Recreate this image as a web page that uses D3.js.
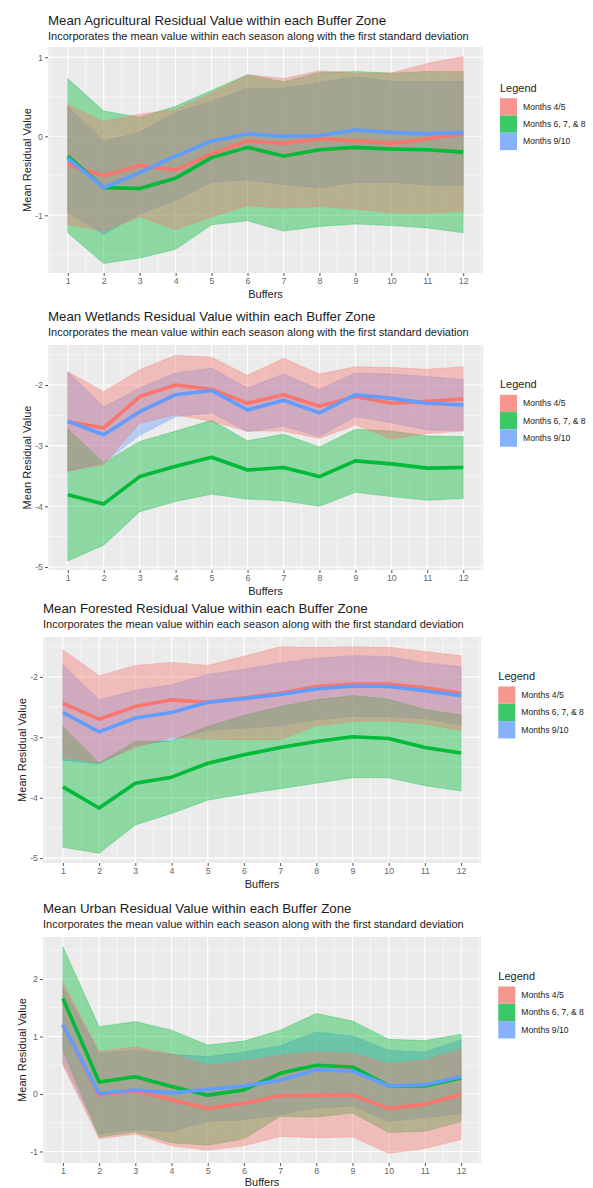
<!DOCTYPE html>
<html>
<head>
<meta charset="utf-8">
<script src="https://cdn.jsdelivr.net/npm/d3@7"></script>
<style>
  body { margin: 0; background: #fff; }
  svg text { font-family: "Liberation Sans", Arial, Helvetica, sans-serif; }
</style>
</head>
<body>
<svg id="chart" width="593" height="1188"></svg>
<script>
// categories
var buffers = [1, 2, 3, 4, 5, 6, 7, 8, 9, 10, 11, 12];
var seasonNames = ["Months 4/5", "Months 6, 7, & 8", "Months 9/10"];
var seasonColors = ["#F8766D", "#00BA38", "#619CFF"];

// Agricultural
var agriMean45  = [-0.36, -0.50, -0.37, -0.43, -0.22, -0.06, -0.09, -0.03, -0.06, -0.09, -0.03, 0.03];
var agriHigh45  = [0.40, 0.19, 0.28, 0.34, 0.55, 0.78, 0.73, 0.83, 0.80, 0.80, 0.92, 1.01];
var agriLow45   = [-1.12, -1.20, -1.02, -1.18, -1.02, -0.88, -0.91, -0.89, -0.92, -0.97, -0.97, -0.95];
var agriMean678 = [-0.25, -0.65, -0.66, -0.53, -0.27, -0.14, -0.25, -0.17, -0.14, -0.16, -0.17, -0.20];
var agriHigh678 = [0.73, 0.32, 0.24, 0.38, 0.58, 0.78, 0.69, 0.81, 0.82, 0.80, 0.82, 0.82];
var agriLow678  = [-1.22, -1.61, -1.54, -1.43, -1.12, -1.07, -1.20, -1.14, -1.11, -1.13, -1.16, -1.22];
var agriMean910 = [-0.28, -0.65, -0.46, -0.25, -0.06, 0.03, 0.00, 0.01, 0.08, 0.05, 0.03, 0.05];
var agriHigh910 = [0.38, -0.06, 0.05, 0.30, 0.44, 0.61, 0.61, 0.68, 0.75, 0.70, 0.69, 0.70];
var agriLow910  = [-0.96, -1.24, -0.98, -0.81, -0.58, -0.55, -0.61, -0.65, -0.58, -0.58, -0.62, -0.62];
var agriTicks = [-1, 0, 1];
var agriRange = [-1.73, 1.13];

// Wetlands
var wetMean45  = [-2.60, -2.71, -2.19, -2.00, -2.07, -2.30, -2.16, -2.35, -2.19, -2.30, -2.27, -2.23];
var wetHigh45  = [-1.78, -2.11, -1.75, -1.51, -1.54, -1.84, -1.56, -1.82, -1.70, -1.71, -1.74, -1.70];
var wetLow45   = [-3.42, -3.31, -2.63, -2.49, -2.60, -2.76, -2.76, -2.88, -2.66, -2.89, -2.80, -2.76];
var wetMean678 = [-3.81, -3.96, -3.51, -3.34, -3.19, -3.40, -3.36, -3.51, -3.25, -3.30, -3.37, -3.36];
var wetHigh678 = [-2.72, -3.28, -2.93, -2.76, -2.58, -2.92, -2.81, -3.02, -2.73, -2.76, -2.84, -2.85];
var wetLow678  = [-4.90, -4.64, -4.09, -3.92, -3.80, -3.88, -3.91, -4.00, -3.77, -3.84, -3.90, -3.87];
var wetMean910 = [-2.60, -2.82, -2.44, -2.16, -2.09, -2.41, -2.25, -2.46, -2.16, -2.22, -2.30, -2.33];
var wetHigh910 = [-1.78, -2.36, -2.05, -1.80, -1.72, -2.05, -1.82, -2.07, -1.80, -1.82, -1.86, -1.91];
var wetLow910  = [-3.42, -3.28, -2.83, -2.52, -2.46, -2.77, -2.68, -2.85, -2.52, -2.62, -2.74, -2.75];
var wetTicks = [-5, -4, -3, -2];
var wetRange = [-5.05, -1.34];

// Forested
var forMean45  = [-2.44, -2.70, -2.49, -2.38, -2.42, -2.35, -2.27, -2.16, -2.12, -2.12, -2.18, -2.27];
var forHigh45  = [-1.55, -1.98, -1.81, -1.76, -1.81, -1.66, -1.50, -1.51, -1.50, -1.51, -1.58, -1.65];
var forLow45   = [-3.33, -3.42, -3.17, -3.00, -3.03, -3.04, -3.04, -2.81, -2.74, -2.73, -2.78, -2.89];
var forMean678 = [-3.82, -4.17, -3.76, -3.66, -3.43, -3.29, -3.17, -3.07, -2.99, -3.02, -3.17, -3.26];
var forHigh678 = [-2.82, -3.42, -3.07, -3.06, -2.82, -2.64, -2.49, -2.38, -2.31, -2.37, -2.54, -2.63];
var forLow678  = [-4.82, -4.92, -4.45, -4.26, -4.04, -3.94, -3.85, -3.76, -3.67, -3.67, -3.80, -3.89];
var forMean910 = [-2.59, -2.91, -2.68, -2.59, -2.42, -2.36, -2.29, -2.20, -2.15, -2.16, -2.23, -2.31];
var forHigh910 = [-1.80, -2.38, -2.22, -2.13, -1.96, -1.87, -1.77, -1.69, -1.65, -1.66, -1.77, -1.83];
var forLow910  = [-3.38, -3.44, -3.14, -3.05, -2.88, -2.85, -2.81, -2.71, -2.65, -2.66, -2.69, -2.79];
var forTicks = [-5, -4, -3, -2];
var forRange = [-5.08, -1.34];

// Urban
var urbMean45  = [1.20, -0.02, 0.06, -0.10, -0.25, -0.16, -0.03, -0.02, -0.02, -0.25, -0.18, -0.01];
var urbHigh45  = [1.95, 0.74, 0.82, 0.70, 0.50, 0.58, 0.68, 0.73, 0.71, 0.53, 0.59, 0.78];
var urbLow45   = [0.50, -0.78, -0.70, -0.90, -0.98, -0.90, -0.74, -0.76, -0.75, -1.03, -0.95, -0.79];
var urbMean678 = [1.66, 0.21, 0.30, 0.13, -0.02, 0.07, 0.36, 0.50, 0.47, 0.14, 0.14, 0.28];
var urbHigh678 = [2.56, 1.17, 1.26, 1.11, 0.85, 0.92, 1.11, 1.40, 1.27, 0.95, 0.93, 1.04];
var urbLow678  = [0.76, -0.75, -0.66, -0.85, -0.89, -0.78, -0.39, -0.40, -0.33, -0.67, -0.65, -0.48];
var urbMean910 = [1.20, 0.01, 0.07, 0.02, 0.08, 0.14, 0.24, 0.42, 0.40, 0.14, 0.16, 0.30];
var urbHigh910 = [1.85, 0.71, 0.76, 0.69, 0.65, 0.73, 0.84, 1.08, 1.01, 0.76, 0.73, 0.94];
var urbLow910  = [0.55, -0.69, -0.62, -0.65, -0.48, -0.45, -0.36, -0.24, -0.21, -0.48, -0.41, -0.34];
var urbTicks = [-1, 0, 1, 2];
var urbRange = [-1.20, 2.73];

var subtitle = "Incorporates the mean value within each season along with the first standard deviation";

var panels = [
  { title: "Mean Agricultural Residual Value within each Buffer Zone",
    left: 48, right: 483, top: 47, bottom: 273, titleY: 25, yTitleX: 27, legendY: 91.7, keyX: 500, xTitleDy: 25,
    range: agriRange, ticks: agriTicks,
    means: [agriMean45, agriMean678, agriMean910], lows: [agriLow45, agriLow678, agriLow910], highs: [agriHigh45, agriHigh678, agriHigh910] },
  { title: "Mean Wetlands Residual Value within each Buffer Zone",
    left: 48, right: 483, top: 345, bottom: 570, titleY: 321, yTitleX: 27, legendY: 388.3, keyX: 500, xTitleDy: 25,
    range: wetRange, ticks: wetTicks,
    means: [wetMean45, wetMean678, wetMean910], lows: [wetLow45, wetLow678, wetLow910], highs: [wetHigh45, wetHigh678, wetHigh910] },
  { title: "Mean Forested Residual Value within each Buffer Zone",
    left: 43, right: 481, top: 637, bottom: 863, titleY: 613.3, yTitleX: 22, legendY: 680, keyX: 498.3, xTitleDy: 25,
    range: forRange, ticks: forTicks,
    means: [forMean45, forMean678, forMean910], lows: [forLow45, forLow678, forLow910], highs: [forHigh45, forHigh678, forHigh910] },
  { title: "Mean Urban Residual Value within each Buffer Zone",
    left: 43, right: 481, top: 937, bottom: 1163, titleY: 913.3, yTitleX: 22, legendY: 980, keyX: 498.3, xTitleDy: 22.5,
    range: urbRange, ticks: urbTicks,
    means: [urbMean45, urbMean678, urbMean910], lows: [urbLow45, urbLow678, urbLow910], highs: [urbHigh45, urbHigh678, urbHigh910] }
];

// ribbons are layered 9/10 first, then 6-8, then 4/5 on top
var ribbonOrder = [2, 1, 0];

var svg = d3.select("#chart");

panels.forEach(function (p) {
  var g = svg.append("g");

  var x = d3.scaleLinear().domain([0.45, 12.55]).range([p.left, p.right]);
  var y = d3.scaleLinear().domain(p.range).range([p.bottom, p.top]);

  // titles
  g.append("text").attr("x", p.left).attr("y", p.titleY)
    .attr("font-size", "13.3px").attr("fill", "#1a1a1a").text(p.title);
  g.append("text").attr("x", p.left).attr("y", p.titleY + 15)
    .attr("font-size", "11px").attr("fill", "#1a1a1a").text(subtitle);

  // panel background
  g.append("rect")
    .attr("x", p.left).attr("y", p.top)
    .attr("width", p.right - p.left).attr("height", p.bottom - p.top)
    .attr("fill", "#EBEBEB");

  // minor grid
  var step = p.ticks[1] - p.ticks[0];
  var yMinor = d3.range(p.ticks[0] - step / 2, p.ticks[p.ticks.length - 1] + step, step)
    .filter(function (v) { return v > p.range[0] && v < p.range[1]; });
  var xMinor = buffers.map(function (b) { return b - 0.5; }).concat([12.5]);

  g.selectAll(".yminor").data(yMinor).enter().append("line")
    .attr("x1", p.left).attr("x2", p.right)
    .attr("y1", function (d) { return y(d); }).attr("y2", function (d) { return y(d); })
    .attr("stroke", "#fff").attr("stroke-width", 0.5);
  g.selectAll(".xminor").data(xMinor).enter().append("line")
    .attr("y1", p.top).attr("y2", p.bottom)
    .attr("x1", function (d) { return x(d); }).attr("x2", function (d) { return x(d); })
    .attr("stroke", "#fff").attr("stroke-width", 0.5);

  // major grid
  g.selectAll(".ymajor").data(p.ticks).enter().append("line")
    .attr("x1", p.left).attr("x2", p.right)
    .attr("y1", function (d) { return y(d); }).attr("y2", function (d) { return y(d); })
    .attr("stroke", "#fff").attr("stroke-width", 1.1);
  g.selectAll(".xmajor").data(buffers).enter().append("line")
    .attr("y1", p.top).attr("y2", p.bottom)
    .attr("x1", function (d) { return x(d); }).attr("x2", function (d) { return x(d); })
    .attr("stroke", "#fff").attr("stroke-width", 1.1);

  // ribbons
  ribbonOrder.forEach(function (i) {
    var col = seasonColors[i];
    var pts = buffers.map(function (b, j) {
      return { b: b, lo: p.lows[i][j], hi: p.highs[i][j] };
    });
    var area = d3.area()
      .x(function (d) { return x(d.b); })
      .y0(function (d) { return y(d.lo); })
      .y1(function (d) { return y(d.hi); });
    g.append("path").datum(pts)
      .attr("d", area)
      .attr("fill", col).attr("fill-opacity", 0.4)
      .attr("stroke", col).attr("stroke-opacity", 0.5).attr("stroke-width", 0.6);
  });

  // mean lines
  seasonColors.forEach(function (col, i) {
    var line = d3.line()
      .x(function (d, j) { return x(buffers[j]); })
      .y(function (d) { return y(d); });
    g.append("path").datum(p.means[i])
      .attr("d", line)
      .attr("fill", "none")
      .attr("stroke", col).attr("stroke-width", 3.6)
      .attr("stroke-linejoin", "round");
  });

  // axes
  var yAxis = d3.axisLeft(y).tickValues(p.ticks).tickSize(3).tickPadding(2)
    .tickFormat(d3.format("d"));
  var ya = g.append("g").attr("transform", "translate(" + p.left + ",0)").call(yAxis);
  var xAxis = d3.axisBottom(x).tickValues(buffers).tickSize(3).tickPadding(2);
  var xa = g.append("g").attr("transform", "translate(0," + p.bottom + ")").call(xAxis);
  [ya, xa].forEach(function (a) {
    a.select(".domain").remove();
    a.selectAll(".tick line").attr("stroke", "#555");
    a.selectAll(".tick text").attr("fill", "#666").attr("font-size", "8.8px")
      .attr("font-family", "Liberation Sans, Arial, sans-serif");
  });
  ya.selectAll(".tick text").text(function (d) { return d < 0 ? "-" + Math.abs(d) : d; });

  // axis titles
  g.append("text")
    .attr("x", (p.left + p.right) / 2).attr("y", p.bottom + p.xTitleDy)
    .attr("text-anchor", "middle").attr("font-size", "11px").attr("fill", "#222")
    .text("Buffers");
  g.append("text")
    .attr("transform", "translate(" + p.yTitleX + "," + ((p.top + p.bottom) / 2) + ") rotate(-90)")
    .attr("text-anchor", "middle").attr("dy", "0.35em").attr("font-size", "11px").attr("fill", "#222")
    .text("Mean Residual Value");

  // legend
  g.append("text").attr("x", p.keyX).attr("y", p.legendY)
    .attr("font-size", "11px").attr("fill", "#222").text("Legend");
  seasonNames.forEach(function (name, i) {
    var ky = p.legendY + 6.5 + i * 17.3;
    g.append("rect").attr("x", p.keyX).attr("y", ky)
      .attr("width", 17).attr("height", 17.3).attr("fill", "#F2F2F2");
    g.append("rect").attr("x", p.keyX).attr("y", ky)
      .attr("width", 17).attr("height", 17.3)
      .attr("fill", seasonColors[i]).attr("fill-opacity", 0.75);
    g.append("text").attr("x", p.keyX + 23).attr("y", ky + 8.65)
      .attr("dy", "0.35em").attr("font-size", "8.6px").attr("fill", "#222").text(name);
  });
});
</script>
</body>
</html>
